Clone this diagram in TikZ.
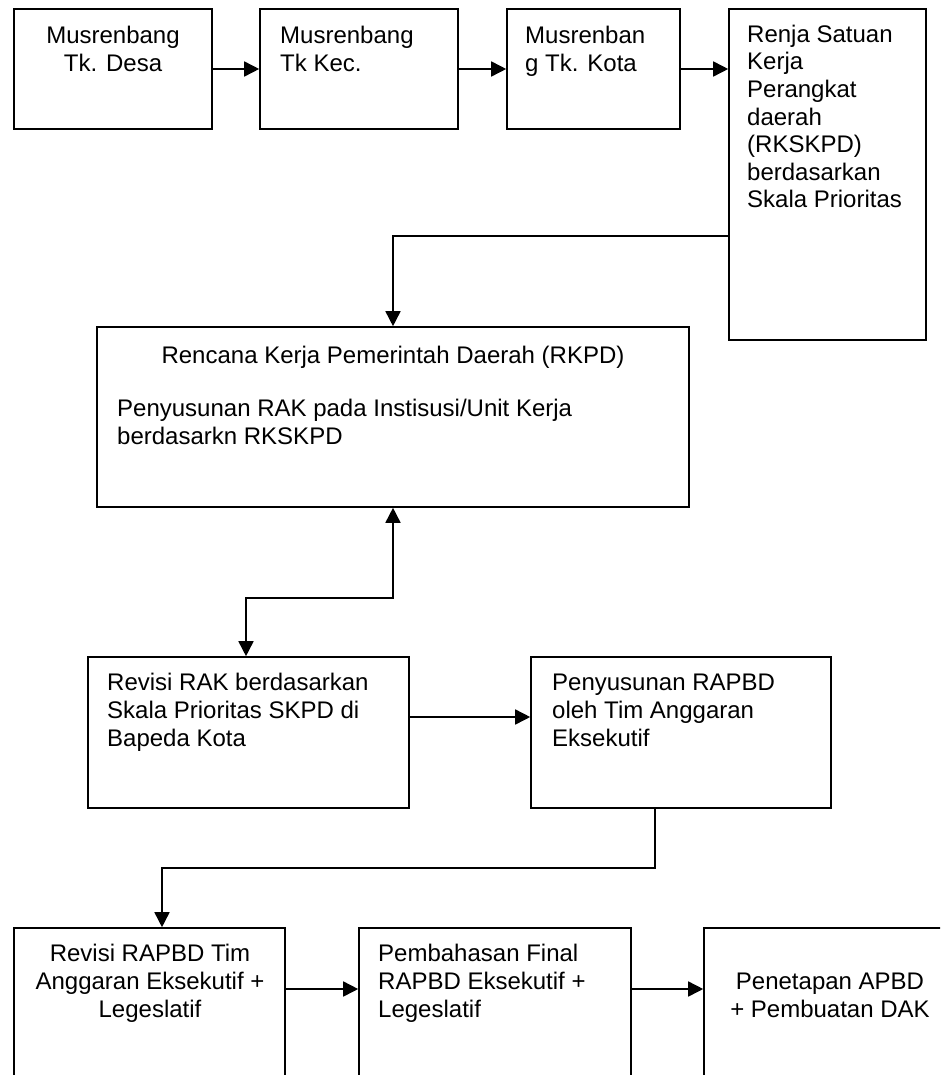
\documentclass[tikz,border=0pt]{standalone}
\usepackage{fontspec}
\setmainfont{Liberation Sans}
\usetikzlibrary{arrows.meta}
\begin{document}
\begin{tikzpicture}[x=1pt,y=-1pt,
  box/.style={draw, line width=1.6pt, inner sep=0pt},
  txt/.style={inner sep=0pt, font=\fontsize{24}{27.6}\selectfont},
  arr/.style={line width=1.6pt, -{Triangle[length=15pt,width=15pt]}},
  arrboth/.style={line width=1.6pt, {Triangle[length=15pt,width=15pt]}-{Triangle[length=15pt,width=15pt]}}]
\useasboundingbox (0,0) rectangle (940,1075);
\clip (0,0) rectangle (940,1075);
\fill[white] (0,0) rectangle (940,1075);
% boxes
\node[box, minimum width=198pt, minimum height=120pt] (b1) at (113,69) {};
\node[box, minimum width=198pt, minimum height=120pt] (b2) at (359,69) {};
\node[box, minimum width=173pt, minimum height=120pt] (b3) at (593.5,69) {};
\node[box, minimum width=197pt, minimum height=331pt] (b4) at (827.5,174.5) {};
\node[box, minimum width=592pt, minimum height=180pt] (rkpd) at (393,417) {};
\node[box, minimum width=321pt, minimum height=151pt] (rev) at (248.5,732.5) {};
\node[box, minimum width=300pt, minimum height=151pt] (rap) at (681,732.5) {};
\node[box, minimum width=271pt, minimum height=180pt] (fa) at (149.5,1018) {};
\node[box, minimum width=272pt, minimum height=180pt] (fb) at (495,1018) {};
\node[box, minimum width=256pt, minimum height=180pt] (fc) at (832,1018) {};
% texts
\node[txt, anchor=north, align=center] (t1) at (113,24.3) {\strut Musrenbang\\Tk. Desa};
\node[txt, anchor=north west, align=left] (t2) at (280,24.3) {\strut Musrenbang\\Tk Kec.};
\node[txt, anchor=north west, align=left] (t3) at (525,24.3) {\strut Musrenban\\g Tk. Kota};
\node[txt, anchor=north west, align=left] (t4) at (747,22.8) {\strut Renja Satuan\\Kerja\\Perangkat\\daerah\\(RKSKPD)\\berdasarkan\\Skala Prioritas};
\node[txt, anchor=north] (t5) at (393,344.3) {\strut Rencana Kerja Pemerintah Daerah (RKPD)};
\node[txt, anchor=north west, align=left] (t6) at (117,397.3) {\strut Penyusunan RAK pada Instisusi/Unit Kerja\\berdasarkn RKSKPD};
\node[txt, anchor=north west, align=left] (t7) at (107,671.3) {\strut Revisi RAK berdasarkan\\Skala Prioritas SKPD di\\Bapeda Kota};
\node[txt, anchor=north west, align=left] (t8) at (552,671.3) {\strut Penyusunan RAPBD\\oleh Tim Anggaran\\Eksekutif};
\node[txt, anchor=north, align=center] (t9) at (150,942.3) {\strut Revisi RAPBD Tim\\Anggaran Eksekutif +\\Legeslatif};
\node[txt, anchor=north west, align=left] (t10) at (378,942.3) {\strut Pembahasan Final\\RAPBD Eksekutif +\\Legeslatif};
\node[txt, anchor=north, align=center] (t11) at (830,970.3) {\strut Penetapan APBD\\+ Pembuatan DAK};
% helper coordinates
\coordinate (c1) at (0,236);
\coordinate (c2) at (0,598);
\coordinate (c3) at (0,717);
\coordinate (k1) at (655,868);
\coordinate (k2) at (162,868);
\coordinate (c4) at (0,989);
\coordinate (c5) at (246,0);
% connectors
\draw[arr] (b1.east) -- (b2.west);
\draw[arr] (b2.east) -- (b3.west);
\draw[arr] (b3.east) -- (b4.west |- b3.east);
\draw[arr] (b4.west |- c1) -| (rkpd.north);
\draw[arrboth] (rkpd.south) |- (c5 |- c2) -- (rev.north -| c5);
\draw[arr] (rev.east |- c3) -- (rap.west |- c3);
\draw[arr] (rap.south -| k1) -- (k1) -- (k2) -- (fa.north -| k2);
\draw[arr] (fa.east |- c4) -- (fb.west |- c4);
\draw[arr] (fb.east |- c4) -- (fc.west |- c4);
\end{tikzpicture}
\end{document}
